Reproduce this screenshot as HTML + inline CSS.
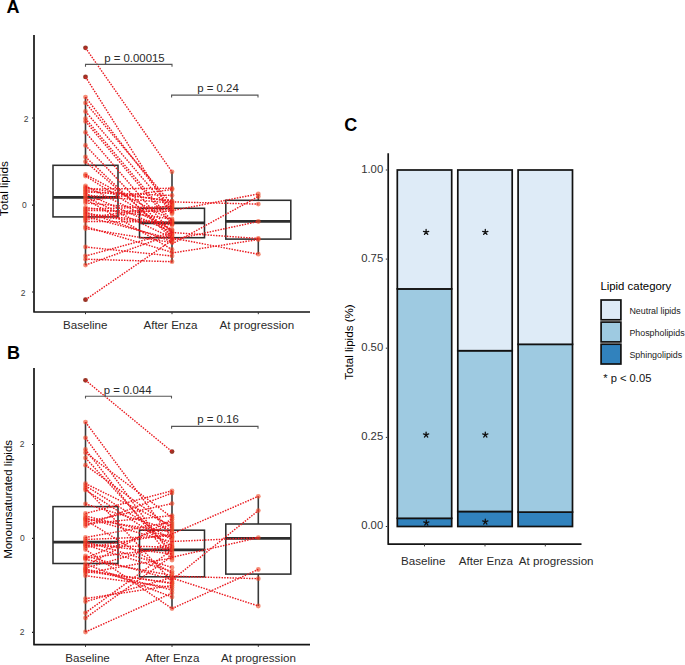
<!DOCTYPE html>
<html><head><meta charset="utf-8"><style>
html,body{margin:0;padding:0;background:#fff;overflow:hidden;}
svg{display:block;font-family:"Liberation Sans", sans-serif;}
.dl{stroke:#ea1a20;stroke-width:1.45;stroke-dasharray:1.5 1.25;fill:none;}
.wk{stroke:#3a3a3a;stroke-width:1.6;}
.bx{fill:none;stroke:#2e2e2e;stroke-width:1.55;}
.md{stroke:#2e2e2e;stroke-width:2.7;}
.ax{stroke:#151515;stroke-width:1.7;fill:none;stroke-linejoin:round;stroke-linecap:butt;}
.tk{stroke:#333;stroke-width:1;}
.tk2{stroke:#222;stroke-width:1.2;}
.br{fill:none;stroke:#555;stroke-width:1.1;}
</style></head><body>
<svg width="685" height="665" viewBox="0 0 685 665">
<text x="6.6" y="12.9" font-size="18" text-anchor="start" fill="#000" font-weight="bold" >A</text>
<line x1="85.5" y1="97.1" x2="85.5" y2="165.3" class="wk"/>
<line x1="85.5" y1="216.9" x2="85.5" y2="265.1" class="wk"/>
<rect x="53.0" y="165.3" width="65.0" height="51.599999999999994" class="bx"/>
<line x1="53.0" y1="197.4" x2="118.0" y2="197.4" class="md"/>
<line x1="172.0" y1="171.6" x2="172.0" y2="208.3" class="wk"/>
<line x1="172.0" y1="237.7" x2="172.0" y2="262.5" class="wk"/>
<rect x="139.5" y="208.3" width="65.0" height="29.399999999999977" class="bx"/>
<line x1="139.5" y1="222.9" x2="204.5" y2="222.9" class="md"/>
<line x1="258.3" y1="193.9" x2="258.3" y2="200.3" class="wk"/>
<line x1="258.3" y1="239.1" x2="258.3" y2="254.2" class="wk"/>
<rect x="225.8" y="200.3" width="65.0" height="38.79999999999998" class="bx"/>
<line x1="225.8" y1="221.4" x2="290.8" y2="221.4" class="md"/>
<circle cx="85.5" cy="47.8" r="2.4" fill="#983526"/>
<circle cx="85.5" cy="76.9" r="2.4" fill="#983526"/>
<circle cx="85.5" cy="97.1" r="2.4" fill="#ef4a26" fill-opacity="0.62"/>
<circle cx="85.5" cy="102.9" r="2.4" fill="#ef4a26" fill-opacity="0.62"/>
<circle cx="85.5" cy="111.5" r="2.4" fill="#ef4a26" fill-opacity="0.62"/>
<circle cx="85.5" cy="118.6" r="2.4" fill="#ef4a26" fill-opacity="0.62"/>
<circle cx="85.5" cy="121.4" r="2.4" fill="#ef4a26" fill-opacity="0.62"/>
<circle cx="85.5" cy="132.3" r="2.4" fill="#ef4a26" fill-opacity="0.62"/>
<circle cx="85.5" cy="145.4" r="2.4" fill="#ef4a26" fill-opacity="0.62"/>
<circle cx="85.5" cy="156.9" r="2.4" fill="#ef4a26" fill-opacity="0.62"/>
<circle cx="85.5" cy="161.7" r="2.4" fill="#ef4a26" fill-opacity="0.62"/>
<circle cx="85.5" cy="174.5" r="2.4" fill="#ef4a26" fill-opacity="0.62"/>
<circle cx="85.5" cy="176" r="2.4" fill="#ef4a26" fill-opacity="0.62"/>
<circle cx="85.5" cy="186" r="2.4" fill="#ef4a26" fill-opacity="0.62"/>
<circle cx="85.5" cy="187.5" r="2.4" fill="#ef4a26" fill-opacity="0.62"/>
<circle cx="85.5" cy="189" r="2.4" fill="#ef4a26" fill-opacity="0.62"/>
<circle cx="85.5" cy="190.5" r="2.4" fill="#ef4a26" fill-opacity="0.62"/>
<circle cx="85.5" cy="192" r="2.4" fill="#ef4a26" fill-opacity="0.62"/>
<circle cx="85.5" cy="193.5" r="2.4" fill="#ef4a26" fill-opacity="0.62"/>
<circle cx="85.5" cy="195" r="2.4" fill="#ef4a26" fill-opacity="0.62"/>
<circle cx="85.5" cy="197" r="2.4" fill="#ef4a26" fill-opacity="0.62"/>
<circle cx="85.5" cy="199" r="2.4" fill="#ef4a26" fill-opacity="0.62"/>
<circle cx="85.5" cy="201" r="2.4" fill="#ef4a26" fill-opacity="0.62"/>
<circle cx="85.5" cy="203" r="2.4" fill="#ef4a26" fill-opacity="0.62"/>
<circle cx="85.5" cy="207.5" r="2.4" fill="#ef4a26" fill-opacity="0.62"/>
<circle cx="85.5" cy="209" r="2.4" fill="#ef4a26" fill-opacity="0.62"/>
<circle cx="85.5" cy="210.5" r="2.4" fill="#ef4a26" fill-opacity="0.62"/>
<circle cx="85.5" cy="212" r="2.4" fill="#ef4a26" fill-opacity="0.62"/>
<circle cx="85.5" cy="213.5" r="2.4" fill="#ef4a26" fill-opacity="0.62"/>
<circle cx="85.5" cy="215" r="2.4" fill="#ef4a26" fill-opacity="0.62"/>
<circle cx="85.5" cy="216.5" r="2.4" fill="#ef4a26" fill-opacity="0.62"/>
<circle cx="85.5" cy="218" r="2.4" fill="#ef4a26" fill-opacity="0.62"/>
<circle cx="85.5" cy="219.5" r="2.4" fill="#ef4a26" fill-opacity="0.62"/>
<circle cx="85.5" cy="221.5" r="2.4" fill="#ef4a26" fill-opacity="0.62"/>
<circle cx="85.5" cy="226.5" r="2.4" fill="#ef4a26" fill-opacity="0.62"/>
<circle cx="85.5" cy="228.5" r="2.4" fill="#ef4a26" fill-opacity="0.62"/>
<circle cx="85.5" cy="247" r="2.4" fill="#ef4a26" fill-opacity="0.62"/>
<circle cx="85.5" cy="256" r="2.4" fill="#ef4a26" fill-opacity="0.62"/>
<circle cx="85.5" cy="259.2" r="2.4" fill="#ef4a26" fill-opacity="0.62"/>
<circle cx="85.5" cy="265.1" r="2.4" fill="#ef4a26" fill-opacity="0.62"/>
<circle cx="85.5" cy="299.7" r="2.4" fill="#983526"/>
<circle cx="172.0" cy="171.8" r="2.4" fill="#ef4a26" fill-opacity="0.62"/>
<circle cx="172.0" cy="188.3" r="2.4" fill="#ef4a26" fill-opacity="0.62"/>
<circle cx="172.0" cy="189.5" r="2.4" fill="#ef4a26" fill-opacity="0.62"/>
<circle cx="172.0" cy="195.5" r="2.4" fill="#ef4a26" fill-opacity="0.62"/>
<circle cx="172.0" cy="200.8" r="2.4" fill="#ef4a26" fill-opacity="0.62"/>
<circle cx="172.0" cy="201.9" r="2.4" fill="#ef4a26" fill-opacity="0.62"/>
<circle cx="172.0" cy="203.2" r="2.4" fill="#ef4a26" fill-opacity="0.62"/>
<circle cx="172.0" cy="204.3" r="2.4" fill="#ef4a26" fill-opacity="0.62"/>
<circle cx="172.0" cy="205.4" r="2.4" fill="#ef4a26" fill-opacity="0.62"/>
<circle cx="172.0" cy="206.6" r="2.4" fill="#ef4a26" fill-opacity="0.62"/>
<circle cx="172.0" cy="207.8" r="2.4" fill="#ef4a26" fill-opacity="0.62"/>
<circle cx="172.0" cy="209" r="2.4" fill="#ef4a26" fill-opacity="0.62"/>
<circle cx="172.0" cy="210.2" r="2.4" fill="#ef4a26" fill-opacity="0.62"/>
<circle cx="172.0" cy="211.4" r="2.4" fill="#ef4a26" fill-opacity="0.62"/>
<circle cx="172.0" cy="212.6" r="2.4" fill="#ef4a26" fill-opacity="0.62"/>
<circle cx="172.0" cy="213.8" r="2.4" fill="#ef4a26" fill-opacity="0.62"/>
<circle cx="172.0" cy="219" r="2.4" fill="#ef4a26" fill-opacity="0.62"/>
<circle cx="172.0" cy="220.5" r="2.4" fill="#ef4a26" fill-opacity="0.62"/>
<circle cx="172.0" cy="221.2" r="2.4" fill="#ef4a26" fill-opacity="0.62"/>
<circle cx="172.0" cy="222" r="2.4" fill="#ef4a26" fill-opacity="0.62"/>
<circle cx="172.0" cy="223.5" r="2.4" fill="#ef4a26" fill-opacity="0.62"/>
<circle cx="172.0" cy="224.2" r="2.4" fill="#ef4a26" fill-opacity="0.62"/>
<circle cx="172.0" cy="225" r="2.4" fill="#ef4a26" fill-opacity="0.62"/>
<circle cx="172.0" cy="229.5" r="2.4" fill="#ef4a26" fill-opacity="0.62"/>
<circle cx="172.0" cy="230.7" r="2.4" fill="#ef4a26" fill-opacity="0.62"/>
<circle cx="172.0" cy="231.9" r="2.4" fill="#ef4a26" fill-opacity="0.62"/>
<circle cx="172.0" cy="232.5" r="2.4" fill="#ef4a26" fill-opacity="0.62"/>
<circle cx="172.0" cy="233.1" r="2.4" fill="#ef4a26" fill-opacity="0.62"/>
<circle cx="172.0" cy="234.3" r="2.4" fill="#ef4a26" fill-opacity="0.62"/>
<circle cx="172.0" cy="235.5" r="2.4" fill="#ef4a26" fill-opacity="0.62"/>
<circle cx="172.0" cy="236.7" r="2.4" fill="#ef4a26" fill-opacity="0.62"/>
<circle cx="172.0" cy="237.9" r="2.4" fill="#ef4a26" fill-opacity="0.62"/>
<circle cx="172.0" cy="238.5" r="2.4" fill="#ef4a26" fill-opacity="0.62"/>
<circle cx="172.0" cy="239.1" r="2.4" fill="#ef4a26" fill-opacity="0.62"/>
<circle cx="172.0" cy="240.3" r="2.4" fill="#ef4a26" fill-opacity="0.62"/>
<circle cx="172.0" cy="241.5" r="2.4" fill="#ef4a26" fill-opacity="0.62"/>
<circle cx="172.0" cy="242.6" r="2.4" fill="#ef4a26" fill-opacity="0.62"/>
<circle cx="172.0" cy="249.5" r="2.4" fill="#ef4a26" fill-opacity="0.62"/>
<circle cx="172.0" cy="252.3" r="2.4" fill="#ef4a26" fill-opacity="0.62"/>
<circle cx="172.0" cy="256" r="2.4" fill="#ef4a26" fill-opacity="0.62"/>
<circle cx="172.0" cy="261.7" r="2.4" fill="#ef4a26" fill-opacity="0.62"/>
<circle cx="258.3" cy="193.9" r="2.4" fill="#ef4a26" fill-opacity="0.62"/>
<circle cx="258.3" cy="196.5" r="2.4" fill="#ef4a26" fill-opacity="0.62"/>
<circle cx="258.3" cy="204.1" r="2.4" fill="#ef4a26" fill-opacity="0.62"/>
<circle cx="258.3" cy="221.5" r="2.4" fill="#ef4a26" fill-opacity="0.62"/>
<circle cx="258.3" cy="238.5" r="2.4" fill="#ef4a26" fill-opacity="0.62"/>
<circle cx="258.3" cy="239.5" r="2.4" fill="#ef4a26" fill-opacity="0.62"/>
<circle cx="258.3" cy="254.2" r="2.4" fill="#ef4a26" fill-opacity="0.62"/>
<line x1="85.5" y1="47.8" x2="172.0" y2="171.8" class="dl"/>
<line x1="85.5" y1="76.9" x2="172.0" y2="213.8" class="dl"/>
<line x1="85.5" y1="299.7" x2="172.0" y2="240.3" class="dl"/>
<line x1="85.5" y1="247.0" x2="172.0" y2="256.0" class="dl"/>
<line x1="85.5" y1="256.0" x2="172.0" y2="232.5" class="dl"/>
<line x1="85.5" y1="259.2" x2="172.0" y2="261.7" class="dl"/>
<line x1="85.5" y1="265.1" x2="172.0" y2="234.3" class="dl"/>
<line x1="85.5" y1="97.1" x2="172.0" y2="209.0" class="dl"/>
<line x1="85.5" y1="102.9" x2="172.0" y2="204.3" class="dl"/>
<line x1="85.5" y1="111.5" x2="172.0" y2="212.6" class="dl"/>
<line x1="85.5" y1="118.6" x2="172.0" y2="221.2" class="dl"/>
<line x1="85.5" y1="121.4" x2="172.0" y2="224.2" class="dl"/>
<line x1="85.5" y1="132.3" x2="172.0" y2="233.1" class="dl"/>
<line x1="85.5" y1="145.4" x2="172.0" y2="236.7" class="dl"/>
<line x1="85.5" y1="156.9" x2="172.0" y2="238.5" class="dl"/>
<line x1="85.5" y1="161.7" x2="172.0" y2="235.5" class="dl"/>
<line x1="85.5" y1="174.5" x2="172.0" y2="220.5" class="dl"/>
<line x1="85.5" y1="176.0" x2="172.0" y2="230.7" class="dl"/>
<line x1="85.5" y1="186.0" x2="172.0" y2="229.5" class="dl"/>
<line x1="85.5" y1="187.5" x2="172.0" y2="201.9" class="dl"/>
<line x1="85.5" y1="189.0" x2="172.0" y2="188.3" class="dl"/>
<line x1="85.5" y1="190.5" x2="172.0" y2="200.8" class="dl"/>
<line x1="85.5" y1="192.0" x2="172.0" y2="195.5" class="dl"/>
<line x1="85.5" y1="193.5" x2="172.0" y2="231.9" class="dl"/>
<line x1="85.5" y1="195.0" x2="172.0" y2="203.2" class="dl"/>
<line x1="85.5" y1="197.0" x2="172.0" y2="237.9" class="dl"/>
<line x1="85.5" y1="199.0" x2="172.0" y2="249.5" class="dl"/>
<line x1="85.5" y1="201.0" x2="172.0" y2="189.5" class="dl"/>
<line x1="85.5" y1="203.0" x2="172.0" y2="210.2" class="dl"/>
<line x1="85.5" y1="207.5" x2="172.0" y2="219.0" class="dl"/>
<line x1="85.5" y1="209.0" x2="172.0" y2="206.6" class="dl"/>
<line x1="85.5" y1="210.5" x2="172.0" y2="211.4" class="dl"/>
<line x1="85.5" y1="212.0" x2="172.0" y2="241.5" class="dl"/>
<line x1="85.5" y1="213.5" x2="172.0" y2="223.5" class="dl"/>
<line x1="85.5" y1="215.0" x2="172.0" y2="225.0" class="dl"/>
<line x1="85.5" y1="216.5" x2="172.0" y2="239.1" class="dl"/>
<line x1="85.5" y1="218.0" x2="172.0" y2="205.4" class="dl"/>
<line x1="85.5" y1="219.5" x2="172.0" y2="207.8" class="dl"/>
<line x1="85.5" y1="221.5" x2="172.0" y2="222.0" class="dl"/>
<line x1="85.5" y1="226.5" x2="172.0" y2="252.3" class="dl"/>
<line x1="85.5" y1="228.5" x2="172.0" y2="242.6" class="dl"/>
<line x1="172.0" y1="210.7" x2="258.3" y2="193.9" class="dl"/>
<line x1="172.0" y1="244.0" x2="258.3" y2="196.5" class="dl"/>
<line x1="172.0" y1="201.9" x2="258.3" y2="204.1" class="dl"/>
<line x1="172.0" y1="240.0" x2="258.3" y2="221.5" class="dl"/>
<line x1="172.0" y1="232.5" x2="258.3" y2="238.5" class="dl"/>
<line x1="172.0" y1="253.0" x2="258.3" y2="239.5" class="dl"/>
<line x1="172.0" y1="238.0" x2="258.3" y2="254.2" class="dl"/>
<path d="M85.5 66.80000000000001V64.4H172V66.80000000000001" class="br"/>
<text x="134.4" y="61.6" font-size="11.4" text-anchor="middle" fill="#2a2a2a" font-weight="normal" >p = 0.00015</text>
<path d="M171.6 97.5V95.1H258V97.5" class="br"/>
<text x="218" y="91.5" font-size="11.4" text-anchor="middle" fill="#2a2a2a" font-weight="normal" >p = 0.24</text>
<path d="M34 35V312H310" class="ax"/>
<line x1="32.0" y1="118" x2="33.2" y2="118" class="tk2"/>
<text x="23.7" y="122.0" font-size="8.5" text-anchor="start" fill="#3c3c3c" font-weight="normal" >2</text>
<line x1="32.0" y1="205.2" x2="33.2" y2="205.2" class="tk2"/>
<text x="22.0" y="208.3" font-size="8.5" text-anchor="start" fill="#3c3c3c" font-weight="normal" >0</text>
<line x1="32.0" y1="292" x2="33.2" y2="292" class="tk2"/>
<text x="20.8" y="295.9" font-size="8.5" text-anchor="start" fill="#3c3c3c" font-weight="normal" >2</text>
<line x1="85.5" y1="312" x2="85.5" y2="314.2" class="tk"/>
<line x1="172.0" y1="312" x2="172.0" y2="314.2" class="tk"/>
<line x1="258.3" y1="312" x2="258.3" y2="314.2" class="tk"/>
<text x="85.3" y="329.2" font-size="11.6" text-anchor="middle" fill="#2a2a2a" font-weight="normal" >Baseline</text>
<text x="170.5" y="329.2" font-size="11.6" text-anchor="middle" fill="#2a2a2a" font-weight="normal" >After Enza</text>
<text x="256.8" y="329.2" font-size="11.6" text-anchor="middle" fill="#2a2a2a" font-weight="normal" >At progression</text>
<text x="0" y="0" font-size="11.8" text-anchor="middle" fill="#000" transform="translate(8.4 188.6) rotate(-90)">Total lipids</text>
<text x="6.9" y="358.6" font-size="18" text-anchor="start" fill="#000" font-weight="bold" >B</text>
<line x1="85.5" y1="422.1" x2="85.5" y2="506.6" class="wk"/>
<line x1="85.5" y1="563.5" x2="85.5" y2="632" class="wk"/>
<rect x="53.0" y="506.6" width="65.0" height="56.89999999999998" class="bx"/>
<line x1="53.0" y1="542.2" x2="118.0" y2="542.2" class="md"/>
<line x1="172.0" y1="490.8" x2="172.0" y2="530.2" class="wk"/>
<line x1="172.0" y1="576.8" x2="172.0" y2="608.6" class="wk"/>
<rect x="139.5" y="530.2" width="65.0" height="46.59999999999991" class="bx"/>
<line x1="139.5" y1="549.9" x2="204.5" y2="549.9" class="md"/>
<line x1="258.3" y1="496.3" x2="258.3" y2="524" class="wk"/>
<line x1="258.3" y1="574.1" x2="258.3" y2="606" class="wk"/>
<rect x="225.8" y="524" width="65.0" height="50.10000000000002" class="bx"/>
<line x1="225.8" y1="538.4" x2="290.8" y2="538.4" class="md"/>
<circle cx="85.5" cy="380.3" r="2.4" fill="#983526"/>
<circle cx="85.5" cy="422.1" r="2.4" fill="#ef4a26" fill-opacity="0.62"/>
<circle cx="85.5" cy="437.8" r="2.4" fill="#ef4a26" fill-opacity="0.62"/>
<circle cx="85.5" cy="449.5" r="2.4" fill="#ef4a26" fill-opacity="0.62"/>
<circle cx="85.5" cy="452.7" r="2.4" fill="#ef4a26" fill-opacity="0.62"/>
<circle cx="85.5" cy="458" r="2.4" fill="#ef4a26" fill-opacity="0.62"/>
<circle cx="85.5" cy="465.2" r="2.4" fill="#ef4a26" fill-opacity="0.62"/>
<circle cx="85.5" cy="483.6" r="2.4" fill="#ef4a26" fill-opacity="0.62"/>
<circle cx="85.5" cy="485.8" r="2.4" fill="#ef4a26" fill-opacity="0.62"/>
<circle cx="85.5" cy="488.1" r="2.4" fill="#ef4a26" fill-opacity="0.62"/>
<circle cx="85.5" cy="490" r="2.4" fill="#ef4a26" fill-opacity="0.62"/>
<circle cx="85.5" cy="504" r="2.4" fill="#ef4a26" fill-opacity="0.62"/>
<circle cx="85.5" cy="513.5" r="2.4" fill="#ef4a26" fill-opacity="0.62"/>
<circle cx="85.5" cy="518" r="2.4" fill="#ef4a26" fill-opacity="0.62"/>
<circle cx="85.5" cy="520" r="2.4" fill="#ef4a26" fill-opacity="0.62"/>
<circle cx="85.5" cy="522" r="2.4" fill="#ef4a26" fill-opacity="0.62"/>
<circle cx="85.5" cy="524" r="2.4" fill="#ef4a26" fill-opacity="0.62"/>
<circle cx="85.5" cy="526" r="2.4" fill="#ef4a26" fill-opacity="0.62"/>
<circle cx="85.5" cy="537.5" r="2.4" fill="#ef4a26" fill-opacity="0.62"/>
<circle cx="85.5" cy="539.5" r="2.4" fill="#ef4a26" fill-opacity="0.62"/>
<circle cx="85.5" cy="541.5" r="2.4" fill="#ef4a26" fill-opacity="0.62"/>
<circle cx="85.5" cy="543.5" r="2.4" fill="#ef4a26" fill-opacity="0.62"/>
<circle cx="85.5" cy="545.5" r="2.4" fill="#ef4a26" fill-opacity="0.62"/>
<circle cx="85.5" cy="547.5" r="2.4" fill="#ef4a26" fill-opacity="0.62"/>
<circle cx="85.5" cy="549.5" r="2.4" fill="#ef4a26" fill-opacity="0.62"/>
<circle cx="85.5" cy="556" r="2.4" fill="#ef4a26" fill-opacity="0.62"/>
<circle cx="85.5" cy="558" r="2.4" fill="#ef4a26" fill-opacity="0.62"/>
<circle cx="85.5" cy="559.5" r="2.4" fill="#ef4a26" fill-opacity="0.62"/>
<circle cx="85.5" cy="564" r="2.4" fill="#ef4a26" fill-opacity="0.62"/>
<circle cx="85.5" cy="566" r="2.4" fill="#ef4a26" fill-opacity="0.62"/>
<circle cx="85.5" cy="568" r="2.4" fill="#ef4a26" fill-opacity="0.62"/>
<circle cx="85.5" cy="570" r="2.4" fill="#ef4a26" fill-opacity="0.62"/>
<circle cx="85.5" cy="571.5" r="2.4" fill="#ef4a26" fill-opacity="0.62"/>
<circle cx="85.5" cy="575.7" r="2.4" fill="#ef4a26" fill-opacity="0.62"/>
<circle cx="85.5" cy="598.6" r="2.4" fill="#ef4a26" fill-opacity="0.62"/>
<circle cx="85.5" cy="601.6" r="2.4" fill="#ef4a26" fill-opacity="0.62"/>
<circle cx="85.5" cy="612.8" r="2.4" fill="#ef4a26" fill-opacity="0.62"/>
<circle cx="85.5" cy="618" r="2.4" fill="#ef4a26" fill-opacity="0.62"/>
<circle cx="85.5" cy="632" r="2.4" fill="#ef4a26" fill-opacity="0.62"/>
<circle cx="85.5" cy="516" r="2.4" fill="#ef4a26" fill-opacity="0.62"/>
<circle cx="85.5" cy="519" r="2.4" fill="#ef4a26" fill-opacity="0.62"/>
<circle cx="85.5" cy="545" r="2.4" fill="#ef4a26" fill-opacity="0.62"/>
<circle cx="85.5" cy="558" r="2.4" fill="#ef4a26" fill-opacity="0.62"/>
<circle cx="85.5" cy="569" r="2.4" fill="#ef4a26" fill-opacity="0.62"/>
<circle cx="85.5" cy="573" r="2.4" fill="#ef4a26" fill-opacity="0.62"/>
<circle cx="172.0" cy="451.6" r="2.4" fill="#983526"/>
<circle cx="172.0" cy="490.8" r="2.4" fill="#ef4a26" fill-opacity="0.62"/>
<circle cx="172.0" cy="493.1" r="2.4" fill="#ef4a26" fill-opacity="0.62"/>
<circle cx="172.0" cy="503.6" r="2.4" fill="#ef4a26" fill-opacity="0.62"/>
<circle cx="172.0" cy="515.6" r="2.4" fill="#ef4a26" fill-opacity="0.62"/>
<circle cx="172.0" cy="517.5" r="2.4" fill="#ef4a26" fill-opacity="0.62"/>
<circle cx="172.0" cy="519.2" r="2.4" fill="#ef4a26" fill-opacity="0.62"/>
<circle cx="172.0" cy="521.9" r="2.4" fill="#ef4a26" fill-opacity="0.62"/>
<circle cx="172.0" cy="524" r="2.4" fill="#ef4a26" fill-opacity="0.62"/>
<circle cx="172.0" cy="526" r="2.4" fill="#ef4a26" fill-opacity="0.62"/>
<circle cx="172.0" cy="528" r="2.4" fill="#ef4a26" fill-opacity="0.62"/>
<circle cx="172.0" cy="530" r="2.4" fill="#ef4a26" fill-opacity="0.62"/>
<circle cx="172.0" cy="532" r="2.4" fill="#ef4a26" fill-opacity="0.62"/>
<circle cx="172.0" cy="534" r="2.4" fill="#ef4a26" fill-opacity="0.62"/>
<circle cx="172.0" cy="536" r="2.4" fill="#ef4a26" fill-opacity="0.62"/>
<circle cx="172.0" cy="537" r="2.4" fill="#ef4a26" fill-opacity="0.62"/>
<circle cx="172.0" cy="538" r="2.4" fill="#ef4a26" fill-opacity="0.62"/>
<circle cx="172.0" cy="540" r="2.4" fill="#ef4a26" fill-opacity="0.62"/>
<circle cx="172.0" cy="542" r="2.4" fill="#ef4a26" fill-opacity="0.62"/>
<circle cx="172.0" cy="544" r="2.4" fill="#ef4a26" fill-opacity="0.62"/>
<circle cx="172.0" cy="546" r="2.4" fill="#ef4a26" fill-opacity="0.62"/>
<circle cx="172.0" cy="547" r="2.4" fill="#ef4a26" fill-opacity="0.62"/>
<circle cx="172.0" cy="548" r="2.4" fill="#ef4a26" fill-opacity="0.62"/>
<circle cx="172.0" cy="550" r="2.4" fill="#ef4a26" fill-opacity="0.62"/>
<circle cx="172.0" cy="552" r="2.4" fill="#ef4a26" fill-opacity="0.62"/>
<circle cx="172.0" cy="554" r="2.4" fill="#ef4a26" fill-opacity="0.62"/>
<circle cx="172.0" cy="556" r="2.4" fill="#ef4a26" fill-opacity="0.62"/>
<circle cx="172.0" cy="558" r="2.4" fill="#ef4a26" fill-opacity="0.62"/>
<circle cx="172.0" cy="560" r="2.4" fill="#ef4a26" fill-opacity="0.62"/>
<circle cx="172.0" cy="567.4" r="2.4" fill="#ef4a26" fill-opacity="0.62"/>
<circle cx="172.0" cy="571.4" r="2.4" fill="#ef4a26" fill-opacity="0.62"/>
<circle cx="172.0" cy="573.5" r="2.4" fill="#ef4a26" fill-opacity="0.62"/>
<circle cx="172.0" cy="575.5" r="2.4" fill="#ef4a26" fill-opacity="0.62"/>
<circle cx="172.0" cy="577.5" r="2.4" fill="#ef4a26" fill-opacity="0.62"/>
<circle cx="172.0" cy="579.5" r="2.4" fill="#ef4a26" fill-opacity="0.62"/>
<circle cx="172.0" cy="581.5" r="2.4" fill="#ef4a26" fill-opacity="0.62"/>
<circle cx="172.0" cy="583" r="2.4" fill="#ef4a26" fill-opacity="0.62"/>
<circle cx="172.0" cy="583.5" r="2.4" fill="#ef4a26" fill-opacity="0.62"/>
<circle cx="172.0" cy="585.5" r="2.4" fill="#ef4a26" fill-opacity="0.62"/>
<circle cx="172.0" cy="587.5" r="2.4" fill="#ef4a26" fill-opacity="0.62"/>
<circle cx="172.0" cy="590" r="2.4" fill="#ef4a26" fill-opacity="0.62"/>
<circle cx="172.0" cy="593" r="2.4" fill="#ef4a26" fill-opacity="0.62"/>
<circle cx="172.0" cy="597" r="2.4" fill="#ef4a26" fill-opacity="0.62"/>
<circle cx="172.0" cy="608.6" r="2.4" fill="#ef4a26" fill-opacity="0.62"/>
<circle cx="258.3" cy="496.3" r="2.4" fill="#ef4a26" fill-opacity="0.62"/>
<circle cx="258.3" cy="510.6" r="2.4" fill="#ef4a26" fill-opacity="0.62"/>
<circle cx="258.3" cy="537.7" r="2.4" fill="#ef4a26" fill-opacity="0.62"/>
<circle cx="258.3" cy="569.5" r="2.4" fill="#ef4a26" fill-opacity="0.62"/>
<circle cx="258.3" cy="578.7" r="2.4" fill="#ef4a26" fill-opacity="0.62"/>
<circle cx="258.3" cy="606" r="2.4" fill="#ef4a26" fill-opacity="0.62"/>
<line x1="85.5" y1="380.3" x2="172.0" y2="451.6" class="dl"/>
<line x1="85.5" y1="422.1" x2="172.0" y2="538.0" class="dl"/>
<line x1="85.5" y1="549.5" x2="172.0" y2="608.6" class="dl"/>
<line x1="85.5" y1="437.8" x2="172.0" y2="556.0" class="dl"/>
<line x1="85.5" y1="513.5" x2="172.0" y2="490.8" class="dl"/>
<line x1="85.5" y1="526.0" x2="172.0" y2="493.1" class="dl"/>
<line x1="85.5" y1="522.0" x2="172.0" y2="503.6" class="dl"/>
<line x1="85.5" y1="632.0" x2="172.0" y2="593.0" class="dl"/>
<line x1="85.5" y1="618.0" x2="172.0" y2="556.0" class="dl"/>
<line x1="85.5" y1="612.8" x2="172.0" y2="550.0" class="dl"/>
<line x1="85.5" y1="601.6" x2="172.0" y2="577.5" class="dl"/>
<line x1="85.5" y1="598.6" x2="172.0" y2="585.5" class="dl"/>
<line x1="85.5" y1="449.5" x2="172.0" y2="560.0" class="dl"/>
<line x1="85.5" y1="452.7" x2="172.0" y2="517.5" class="dl"/>
<line x1="85.5" y1="458.0" x2="172.0" y2="552.0" class="dl"/>
<line x1="85.5" y1="465.2" x2="172.0" y2="528.0" class="dl"/>
<line x1="85.5" y1="483.6" x2="172.0" y2="526.0" class="dl"/>
<line x1="85.5" y1="485.8" x2="172.0" y2="540.0" class="dl"/>
<line x1="85.5" y1="488.1" x2="172.0" y2="581.5" class="dl"/>
<line x1="85.5" y1="490.0" x2="172.0" y2="546.0" class="dl"/>
<line x1="85.5" y1="504.0" x2="172.0" y2="530.0" class="dl"/>
<line x1="85.5" y1="516.0" x2="172.0" y2="537.0" class="dl"/>
<line x1="85.5" y1="518.0" x2="172.0" y2="542.0" class="dl"/>
<line x1="85.5" y1="519.0" x2="172.0" y2="532.0" class="dl"/>
<line x1="85.5" y1="520.0" x2="172.0" y2="573.5" class="dl"/>
<line x1="85.5" y1="524.0" x2="172.0" y2="515.6" class="dl"/>
<line x1="85.5" y1="537.5" x2="172.0" y2="521.9" class="dl"/>
<line x1="85.5" y1="539.5" x2="172.0" y2="536.0" class="dl"/>
<line x1="85.5" y1="541.5" x2="172.0" y2="567.4" class="dl"/>
<line x1="85.5" y1="543.5" x2="172.0" y2="554.0" class="dl"/>
<line x1="85.5" y1="545.0" x2="172.0" y2="571.4" class="dl"/>
<line x1="85.5" y1="545.5" x2="172.0" y2="547.0" class="dl"/>
<line x1="85.5" y1="547.5" x2="172.0" y2="534.0" class="dl"/>
<line x1="85.5" y1="556.0" x2="172.0" y2="579.5" class="dl"/>
<line x1="85.5" y1="558.0" x2="172.0" y2="548.0" class="dl"/>
<line x1="85.5" y1="558.0" x2="172.0" y2="524.0" class="dl"/>
<line x1="85.5" y1="559.5" x2="172.0" y2="575.5" class="dl"/>
<line x1="85.5" y1="564.0" x2="172.0" y2="597.0" class="dl"/>
<line x1="85.5" y1="566.0" x2="172.0" y2="519.2" class="dl"/>
<line x1="85.5" y1="568.0" x2="172.0" y2="544.0" class="dl"/>
<line x1="85.5" y1="569.0" x2="172.0" y2="590.0" class="dl"/>
<line x1="85.5" y1="570.0" x2="172.0" y2="583.5" class="dl"/>
<line x1="85.5" y1="571.5" x2="172.0" y2="583.0" class="dl"/>
<line x1="85.5" y1="573.0" x2="172.0" y2="558.0" class="dl"/>
<line x1="85.5" y1="575.7" x2="172.0" y2="587.5" class="dl"/>
<line x1="172.0" y1="534.0" x2="258.3" y2="496.3" class="dl"/>
<line x1="172.0" y1="580.0" x2="258.3" y2="510.6" class="dl"/>
<line x1="172.0" y1="541.5" x2="258.3" y2="537.7" class="dl"/>
<line x1="172.0" y1="557.3" x2="258.3" y2="537.7" class="dl"/>
<line x1="172.0" y1="608.6" x2="258.3" y2="569.5" class="dl"/>
<line x1="172.0" y1="576.2" x2="258.3" y2="578.7" class="dl"/>
<line x1="172.0" y1="578.0" x2="258.3" y2="606.0" class="dl"/>
<path d="M85.5 398.59999999999997V396.2H171.5V398.59999999999997" class="br"/>
<text x="127.6" y="393.8" font-size="11.4" text-anchor="middle" fill="#2a2a2a" font-weight="normal" >p = 0.044</text>
<path d="M171.6 428.79999999999995V426.4H258V428.79999999999995" class="br"/>
<text x="218" y="423.2" font-size="11.4" text-anchor="middle" fill="#2a2a2a" font-weight="normal" >p = 0.16</text>
<path d="M34 367.9V644.7H310" class="ax"/>
<line x1="32.0" y1="444.5" x2="33.2" y2="444.5" class="tk2"/>
<text x="19.7" y="447.2" font-size="8.5" text-anchor="start" fill="#3c3c3c" font-weight="normal" >2</text>
<line x1="32.0" y1="538.4" x2="33.2" y2="538.4" class="tk2"/>
<text x="19.9" y="541.1" font-size="8.5" text-anchor="start" fill="#3c3c3c" font-weight="normal" >0</text>
<line x1="32.0" y1="632.3" x2="33.2" y2="632.3" class="tk2"/>
<text x="19.7" y="635.1" font-size="8.5" text-anchor="start" fill="#3c3c3c" font-weight="normal" >2</text>
<line x1="85.5" y1="644.7" x2="85.5" y2="646.9000000000001" class="tk"/>
<line x1="172.0" y1="644.7" x2="172.0" y2="646.9000000000001" class="tk"/>
<line x1="258.3" y1="644.7" x2="258.3" y2="646.9000000000001" class="tk"/>
<text x="87.6" y="661.9000000000001" font-size="11.6" text-anchor="middle" fill="#2a2a2a" font-weight="normal" >Baseline</text>
<text x="172.3" y="661.9000000000001" font-size="11.6" text-anchor="middle" fill="#2a2a2a" font-weight="normal" >After Enza</text>
<text x="258.5" y="661.9000000000001" font-size="11.6" text-anchor="middle" fill="#2a2a2a" font-weight="normal" >At progression</text>
<text x="0" y="0" font-size="11.5" text-anchor="middle" fill="#000" transform="translate(11.9 499.4) rotate(-90)">Monounsaturated lipids</text>
<text x="344.2" y="130.5" font-size="18" text-anchor="start" fill="#000" font-weight="bold" >C</text>
<rect x="397.3" y="518.3" width="54.4" height="8.2" fill="#3182bd" stroke="#111" stroke-width="1.7"/>
<rect x="397.3" y="288.9" width="54.4" height="229.4" fill="#9ecae1" stroke="#111" stroke-width="1.7"/>
<rect x="397.3" y="170.0" width="54.4" height="118.9" fill="#deebf7" stroke="#111" stroke-width="1.7"/>
<rect x="457.8" y="511.5" width="54.4" height="15.0" fill="#3182bd" stroke="#111" stroke-width="1.7"/>
<rect x="457.8" y="350.7" width="54.4" height="160.8" fill="#9ecae1" stroke="#111" stroke-width="1.7"/>
<rect x="457.8" y="170.0" width="54.4" height="180.7" fill="#deebf7" stroke="#111" stroke-width="1.7"/>
<rect x="518.0999999999999" y="512.1" width="54.4" height="14.4" fill="#3182bd" stroke="#111" stroke-width="1.7"/>
<rect x="518.0999999999999" y="344.3" width="54.4" height="167.8" fill="#9ecae1" stroke="#111" stroke-width="1.7"/>
<rect x="518.0999999999999" y="170.0" width="54.4" height="174.3" fill="#deebf7" stroke="#111" stroke-width="1.7"/>
<path d="M426.10 232.20L426.10 229.45M426.10 232.20L428.72 231.35M426.10 232.20L427.72 234.42M426.10 232.20L424.48 234.42M426.10 232.20L423.48 231.35" stroke="#111" stroke-width="1.3" stroke-linecap="round" fill="none"/>
<path d="M426.10 434.80L426.10 432.05M426.10 434.80L428.72 433.95M426.10 434.80L427.72 437.02M426.10 434.80L424.48 437.02M426.10 434.80L423.48 433.95" stroke="#111" stroke-width="1.3" stroke-linecap="round" fill="none"/>
<path d="M485.30 232.20L485.30 229.45M485.30 232.20L487.92 231.35M485.30 232.20L486.92 234.42M485.30 232.20L483.68 234.42M485.30 232.20L482.68 231.35" stroke="#111" stroke-width="1.3" stroke-linecap="round" fill="none"/>
<path d="M485.30 434.80L485.30 432.05M485.30 434.80L487.92 433.95M485.30 434.80L486.92 437.02M485.30 434.80L483.68 437.02M485.30 434.80L482.68 433.95" stroke="#111" stroke-width="1.3" stroke-linecap="round" fill="none"/>
<path d="M426.30 522.80L426.30 520.05M426.30 522.80L428.92 521.95M426.30 522.80L427.92 525.02M426.30 522.80L424.68 525.02M426.30 522.80L423.68 521.95" stroke="#111" stroke-width="1.3" stroke-linecap="round" fill="none"/>
<path d="M485.30 521.80L485.30 519.05M485.30 521.80L487.92 520.95M485.30 521.80L486.92 524.02M485.30 521.80L483.68 524.02M485.30 521.80L482.68 520.95" stroke="#111" stroke-width="1.3" stroke-linecap="round" fill="none"/>
<path d="M388.2 153.2V544.2H581.5" class="ax"/>
<line x1="385.8" y1="170.0" x2="387.2" y2="170.0" class="tk"/>
<text x="383.2" y="172.9" font-size="11.3" text-anchor="end" fill="#333" font-weight="normal" >1.00</text>
<line x1="385.8" y1="259.1" x2="387.2" y2="259.1" class="tk"/>
<text x="383.2" y="262.025" font-size="11.3" text-anchor="end" fill="#333" font-weight="normal" >0.75</text>
<line x1="385.8" y1="348.2" x2="387.2" y2="348.2" class="tk"/>
<text x="383.2" y="351.15" font-size="11.3" text-anchor="end" fill="#333" font-weight="normal" >0.50</text>
<line x1="385.8" y1="437.4" x2="387.2" y2="437.4" class="tk"/>
<text x="383.2" y="440.275" font-size="11.3" text-anchor="end" fill="#333" font-weight="normal" >0.25</text>
<line x1="385.8" y1="526.5" x2="387.2" y2="526.5" class="tk"/>
<text x="383.2" y="529.4" font-size="11.3" text-anchor="end" fill="#333" font-weight="normal" >0.00</text>
<line x1="424.5" y1="544.1" x2="424.5" y2="546.4" class="tk"/>
<text x="423.3" y="564.5" font-size="11.6" text-anchor="middle" fill="#2a2a2a" font-weight="normal" >Baseline</text>
<line x1="485.0" y1="544.1" x2="485.0" y2="546.4" class="tk"/>
<text x="485.8" y="564.5" font-size="11.6" text-anchor="middle" fill="#2a2a2a" font-weight="normal" >After Enza</text>
<line x1="545.3" y1="544.1" x2="545.3" y2="546.4" class="tk"/>
<text x="556.2" y="564.5" font-size="11.6" text-anchor="middle" fill="#2a2a2a" font-weight="normal" >At progression</text>
<text x="0" y="0" font-size="11.6" text-anchor="middle" fill="#000" transform="translate(353.0 342) rotate(-90)">Total lipids (%)</text>
<text x="600.4" y="290.2" font-size="11.4" text-anchor="start" fill="#000" font-weight="normal" >Lipid category</text>
<rect x="601.1" y="300.0" width="19.8" height="19.8" fill="#deebf7" stroke="#111" stroke-width="1.7"/>
<text x="629.4" y="314.2" font-size="8.9" text-anchor="start" fill="#222" font-weight="normal" >Neutral lipids</text>
<rect x="601.1" y="322.1" width="19.8" height="19.8" fill="#9ecae1" stroke="#111" stroke-width="1.7"/>
<text x="629.4" y="336.3" font-size="8.9" text-anchor="start" fill="#222" font-weight="normal" >Phospholipids</text>
<rect x="601.1" y="344.2" width="19.8" height="19.8" fill="#3182bd" stroke="#111" stroke-width="1.7"/>
<text x="629.4" y="358.4" font-size="8.9" text-anchor="start" fill="#222" font-weight="normal" >Sphingolipids</text>
<text x="603.2" y="382.4" font-size="11.2" text-anchor="start" fill="#111" font-weight="normal" >* p &lt; 0.05</text>
</svg>
</body></html>
